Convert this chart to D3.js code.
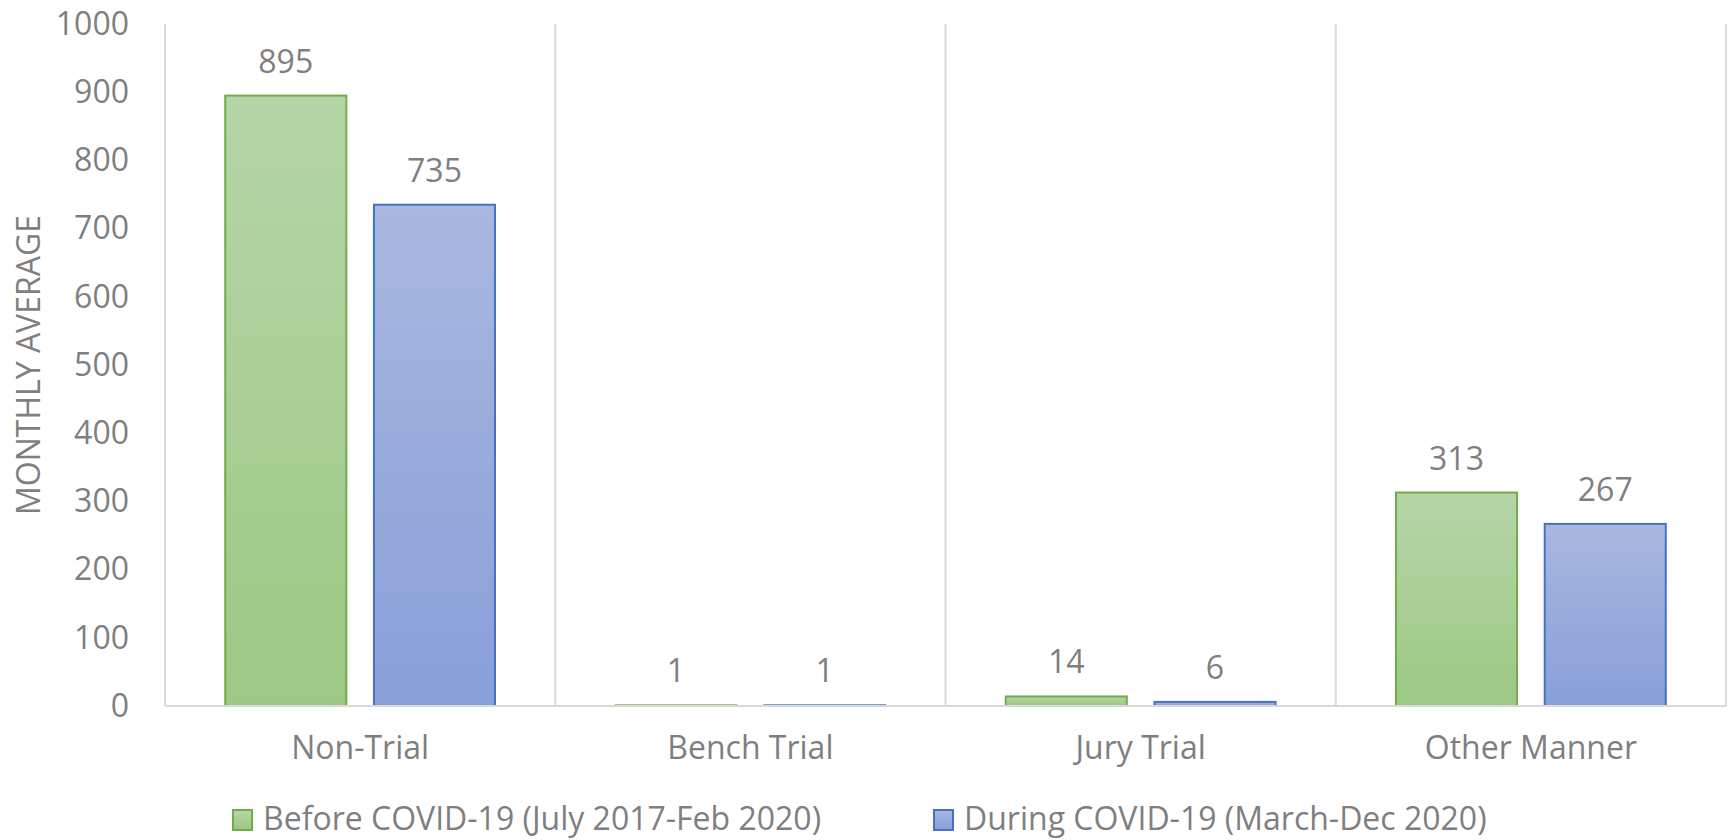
<!DOCTYPE html>
<html>
<head>
<meta charset="utf-8">
<script src="https://cdn.jsdelivr.net/npm/d3@7"></script>
<style>
    body { margin: 0; background: #fff; }
    text { font-family: "Open Sans", "Noto Sans", sans-serif; fill: #7f7f7f; }
</style>
</head>
<body>
<div id="chart"></div>
<script>
// chart data
const categories = ["Non-Trial", "Bench Trial", "Jury Trial", "Other Manner"];
const seriesNames = ["Before COVID-19 (July 2017-Feb 2020)", "During COVID-19 (March-Dec 2020)"];
const beforeValues = [895, 1, 14, 313];
const duringValues = [735, 1, 6, 267];
const yTicks = [0, 100, 200, 300, 400, 500, 600, 700, 800, 900, 1000];

const colors = [
    {stroke: "#70ad47", top: "#b6d5a8", bottom: "#9cc884"},
    {stroke: "#4472c4", top: "#aab7df", bottom: "#889fd8"}
];

const W = 1729, H = 840;
const margin = {top: 24, right: 3, bottom: 134, left: 165};
const width = W - margin.left - margin.right;
const height = H - margin.top - margin.bottom;

const rows = categories.map((c, i) => ({cat: c, values: [beforeValues[i], duringValues[i]]}));

const svg = d3.select("#chart").append("svg")
    .attr("width", W)
    .attr("height", H);

// gradients for bar fills
const defs = svg.append("defs");
colors.forEach((c, i) => {
    const g = defs.append("linearGradient")
        .attr("id", "grad" + i)
        .attr("x1", 0).attr("y1", 0).attr("x2", 0).attr("y2", 1);
    g.append("stop").attr("offset", "0%").attr("stop-color", c.top);
    g.append("stop").attr("offset", "100%").attr("stop-color", c.bottom);
});

const g = svg.append("g")
    .attr("transform", `translate(${margin.left}, ${margin.top})`);

// scales
const x0 = d3.scaleBand().domain(categories).range([0, width]);
const x1 = d3.scaleBand().domain([0, 1]).range([0, x0.bandwidth()])
    .paddingInner(0.186).paddingOuter(0.405);
const y = d3.scaleLinear().domain([0, 1000]).range([height, 0]);

// vertical separators between categories
const seps = categories.map(c => x0(c)).concat([x0.range()[1]]);
g.selectAll(".sep").data(seps).enter()
    .append("line")
    .attr("class", "sep")
    .attr("x1", d => d).attr("x2", d => d)
    .attr("y1", 0).attr("y2", height)
    .attr("stroke", "#d9d9d9")
    .attr("stroke-width", 2);

// y axis labels
const yAxis = d3.axisLeft(y).tickValues(yTicks).tickFormat(d3.format("d"))
    .tickSize(0).tickPadding(36);
g.append("g").call(yAxis)
    .call(a => a.select(".domain").remove())
    .selectAll("text")
    .style("font-size", "32px")
    .attr("fill", "#7f7f7f");

// bars
const catG = g.selectAll(".cat").data(rows).enter()
    .append("g")
    .attr("class", "cat")
    .attr("transform", d => `translate(${x0(d.cat)}, 0)`);

catG.selectAll("rect").data(d => d.values.map((v, i) => ({v: v, i: i}))).enter()
    .append("rect")
    .attr("x", d => x1(d.i))
    .attr("width", x1.bandwidth())
    .attr("y", d => y(d.v))
    .attr("height", d => height - y(d.v))
    .attr("fill", d => `url(#grad${d.i})`)
    .attr("stroke", d => colors[d.i].stroke)
    .attr("stroke-width", 2);

catG.selectAll(".val").data(d => d.values.map((v, i) => ({v: v, i: i}))).enter()
    .append("text")
    .attr("class", "val")
    .attr("x", d => x1(d.i) + x1.bandwidth() / 2)
    .attr("y", d => y(d.v) - 23)
    .attr("text-anchor", "middle")
    .style("font-size", "32px")
    .text(d => d.v);

// x axis baseline
g.append("line")
    .attr("x1", 0).attr("x2", width)
    .attr("y1", height).attr("y2", height)
    .attr("stroke", "#d9d9d9")
    .attr("stroke-width", 2);

// x axis labels
const xAxis = d3.axisBottom(x0).tickSize(0).tickPadding(30);
g.append("g")
    .attr("transform", `translate(0, ${height})`)
    .call(xAxis)
    .call(a => a.select(".domain").remove())
    .selectAll("text")
    .style("font-size", "32px")
    .attr("fill", "#7f7f7f");

// y axis title
g.append("text")
    .attr("transform", `translate(${27 - margin.left}, ${height / 2}) rotate(-90)`)
    .attr("text-anchor", "middle")
    .attr("dominant-baseline", "central")
    .style("font-size", "32px")
    .text("MONTHLY AVERAGE");

// legend
const legendX = [232, 933];
const legend = svg.append("g").attr("class", "legend");
seriesNames.forEach((name, i) => {
    legend.append("rect")
        .attr("x", legendX[i] + 1)
        .attr("y", 810)
        .attr("width", 19)
        .attr("height", 20)
        .attr("fill", `url(#grad${i})`)
        .attr("stroke", colors[i].stroke)
        .attr("stroke-width", 2);
    legend.append("text")
        .attr("x", legendX[i] + 31)
        .attr("y", 830)
        .style("font-size", "32px")
        .text(name);
});
</script>
</body>
</html>
